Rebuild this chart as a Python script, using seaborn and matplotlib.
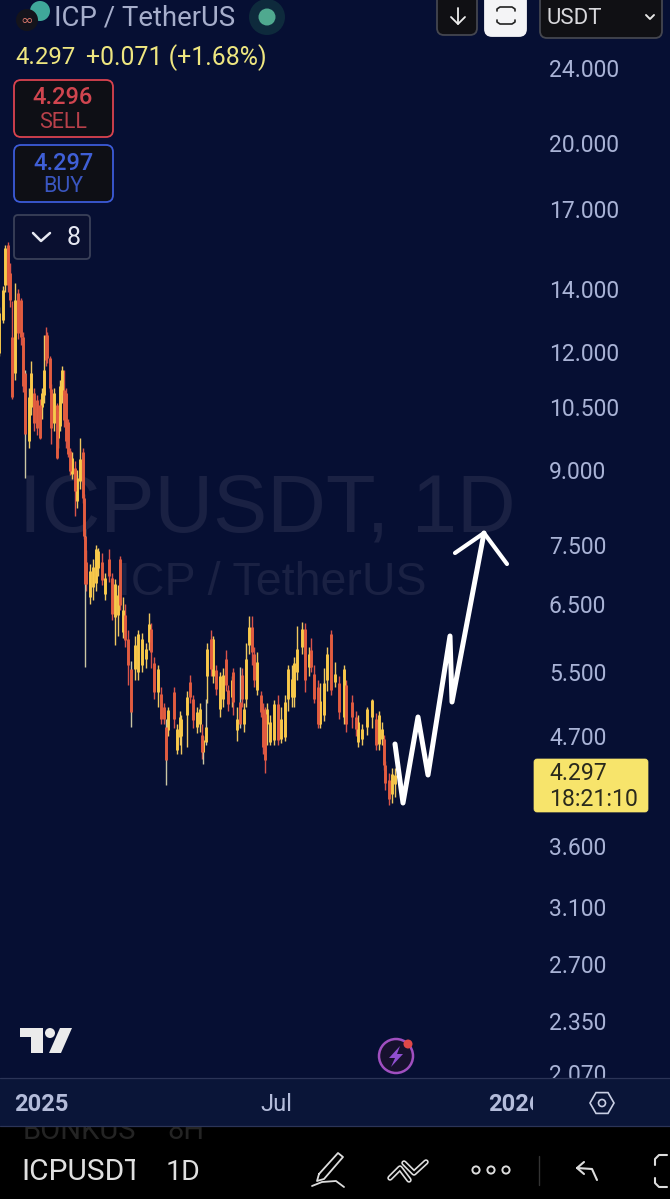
import matplotlib
matplotlib.use("Agg")
import matplotlib.pyplot as plt
from matplotlib.patches import Circle, FancyBboxPatch, Polygon, Rectangle, RegularPolygon
from matplotlib.transforms import Bbox
import pandas as pd
import seaborn as sns

# days counted from 1 Jan 2025
days = [-32, -29, -28, -25, -24, -22, -20, -18, -15, -14,
        -12, -9, -8, -5, -3, -1, 1, 2, 4, 5,
        7, 8, 10, 12, 13, 15, 16, 18, 19, 21,
        22, 24, 26, 28, 30, 32, 33, 34, 35, 38,
        40, 42, 44, 47, 49, 52, 55, 57, 59, 61,
        63, 65, 67, 69, 72, 75, 78, 81, 83, 85,
        87, 90, 92, 95, 96, 98, 102, 105, 107, 108,
        112, 115, 117, 120, 122, 124, 125, 127, 128, 131,
        132, 135, 138, 140, 142, 144, 147, 148, 151, 153,
        155, 156, 158, 160, 162, 164, 166, 169, 171, 172,
        174, 176, 179, 182, 185, 188, 190, 193, 195, 197,
        201, 203, 206, 208, 210, 213, 215, 218, 220, 223,
        226, 229, 233, 235, 239, 242, 244, 247, 251, 255,
        258, 260, 262, 264, 265, 268, 270, 272]
opens = [11.97, 12.98, 14.13, 15.59, 14.55, 12.45, 11.40, 13.86, 13.63, 12.45,
         11.40, 9.67, 10.49, 10.85, 10.67, 10.54, 10.49, 10.80, 12.50, 12.50,
         11.83, 10.98, 10.09, 10.54, 9.74, 10.03, 10.80, 10.93, 10.85, 10.11,
         9.44, 8.91, 9.05, 8.35, 8.77, 9.40, 8.41, 7.66, 7.20, 6.61,
         6.77, 6.83, 7.08, 7.20, 6.66, 7.24, 6.91, 6.29, 6.32, 7.24,
         6.07, 6.32, 5.96, 5.54, 5.54, 5.50, 5.60, 5.68, 5.92, 6.11,
         5.62, 5.24, 5.21, 5.05, 4.81, 4.77, 5.24, 4.55, 4.69, 4.70,
         4.95, 5.37, 5.15, 4.81, 4.85, 4.72, 4.52, 4.64, 5.44, 5.96,
         5.44, 5.53, 5.02, 5.15, 5.68, 5.26, 5.17, 5.50, 4.77, 5.11,
         5.46, 4.84, 5.15, 5.88, 6.14, 5.75, 5.26, 5.20, 5.02, 4.96,
         4.84, 4.64, 4.66, 5.09, 4.67, 4.69, 5.15, 5.17, 5.17, 5.50,
         5.85, 6.11, 5.57, 5.81, 5.47, 5.30, 4.85, 4.95, 5.39, 6.04,
         5.37, 5.35, 4.93, 5.33, 5.11, 4.93, 4.64, 4.67, 4.81, 4.93,
         4.90, 4.61, 4.67, 4.67, 4.38, 4.23, 4.08, 4.19]
closes = [13.20, 13.96, 15.48, 14.13, 13.63, 10.75, 13.63, 12.57, 12.45, 11.06,
          9.84, 10.75, 11.40, 10.09, 9.98, 9.74, 10.85, 11.48, 11.77, 11.83,
          11.00, 9.98, 10.85, 9.28, 10.28, 11.06, 11.48, 10.16, 9.67, 9.37,
          8.98, 9.28, 8.55, 8.83, 9.25, 8.41, 7.66, 6.81, 6.81, 7.03,
          7.11, 7.43, 7.38, 6.89, 6.91, 6.95, 6.34, 6.81, 6.64, 6.48,
          6.40, 5.95, 5.60, 4.99, 5.88, 6.04, 5.96, 5.82, 6.19, 5.78,
          5.24, 5.54, 4.90, 4.90, 4.44, 5.01, 4.90, 4.79, 4.93, 4.90,
          5.17, 5.17, 4.89, 4.99, 5.02, 4.52, 4.66, 4.81, 5.82, 5.54,
          5.96, 5.28, 5.44, 5.46, 5.33, 5.09, 5.39, 5.11, 4.90, 4.84,
          5.15, 5.02, 5.68, 6.14, 5.78, 5.39, 5.64, 4.99, 4.58, 4.44,
          5.02, 4.87, 5.09, 4.66, 4.90, 5.11, 5.54, 5.41, 5.62, 5.82,
          6.11, 5.39, 5.75, 5.57, 5.15, 4.85, 5.13, 5.35, 5.74, 5.26,
          5.47, 4.99, 5.54, 4.84, 4.93, 4.79, 4.87, 4.79, 5.02, 5.14,
          4.60, 4.95, 4.79, 4.38, 4.20, 4.03, 4.29, 4.28]
highs = [13.40, 14.10, 15.60, 15.70, 14.90, 13.60, 14.20, 14.00, 13.70, 12.60,
         11.50, 11.00, 11.75, 11.00, 10.80, 10.70, 11.00, 12.50, 12.75, 12.60,
         11.90, 11.10, 11.00, 10.60, 10.40, 11.20, 11.60, 11.50, 11.00, 10.20,
         9.50, 9.40, 9.20, 9.00, 9.73, 9.50, 8.50, 7.80, 7.40, 7.15,
         7.25, 7.50, 7.45, 7.35, 7.00, 7.42, 7.00, 6.90, 6.80, 7.30,
         6.60, 6.50, 6.10, 5.65, 6.00, 6.10, 6.05, 5.90, 6.35, 6.20,
         5.70, 5.60, 5.30, 5.10, 4.90, 5.05, 5.30, 4.85, 5.00, 4.95,
         5.25, 5.46, 5.20, 5.05, 5.10, 4.85, 4.70, 5.15, 5.90, 6.10,
         6.00, 5.60, 5.50, 5.55, 5.80, 5.33, 5.45, 5.55, 5.05, 5.57,
         5.55, 5.10, 5.90, 6.30, 6.30, 5.85, 5.78, 5.25, 5.10, 5.05,
         5.10, 4.95, 5.14, 5.20, 5.05, 5.20, 5.60, 5.60, 5.70, 6.15,
         6.22, 6.20, 5.85, 5.97, 5.60, 5.40, 5.35, 5.55, 5.85, 6.10,
         5.64, 5.45, 5.60, 5.40, 5.20, 5.00, 4.95, 4.85, 5.05, 5.15,
         4.98, 5.00, 4.87, 4.72, 4.43, 4.30, 4.35, 4.35]
lows = [11.90, 12.90, 13.90, 13.90, 13.40, 10.70, 11.20, 12.40, 12.20, 10.90,
        8.83, 9.50, 10.30, 9.90, 9.80, 9.70, 10.20, 10.60, 11.60, 11.70,
        10.90, 9.60, 9.90, 9.25, 9.50, 9.90, 10.60, 10.00, 9.50, 9.30,
        8.90, 8.80, 8.05, 8.20, 8.60, 8.30, 7.60, 5.57, 6.70, 6.50,
        6.55, 6.70, 6.95, 6.80, 6.55, 6.85, 6.25, 5.88, 6.00, 6.40,
        5.98, 5.85, 5.33, 4.81, 5.40, 5.40, 5.50, 5.55, 5.80, 5.55,
        5.15, 5.05, 4.85, 4.85, 4.17, 4.70, 4.80, 4.50, 4.60, 4.50,
        4.58, 5.10, 4.80, 4.74, 4.75, 4.45, 4.39, 4.60, 5.10, 5.45,
        5.35, 5.20, 4.93, 5.05, 5.25, 5.00, 5.05, 4.95, 4.65, 4.80,
        5.05, 4.75, 5.05, 5.75, 5.60, 5.30, 5.20, 4.93, 4.50, 4.30,
        4.60, 4.60, 4.60, 4.60, 4.63, 4.65, 5.00, 5.05, 5.05, 5.40,
        5.75, 5.24, 5.45, 5.50, 5.10, 4.80, 4.80, 4.88, 5.25, 5.20,
        5.30, 4.90, 4.85, 4.75, 4.80, 4.70, 4.58, 4.60, 4.72, 4.80,
        4.55, 4.55, 4.60, 4.33, 4.12, 3.98, 4.00, 4.05]
pale_wick_days = [-12, 34, 69, 96, 125, 127, 153]

price_ticks = [24, 20, 17, 14, 12, 10.5, 9, 7.5, 6.5, 5.5, 4.7, 3.6, 3.1, 2.7, 2.35, 2.07]
price_labels = ["24.000", "20.000", "17.000", "14.000", "12.000", "10.500", "9.000", "7.500",
                "6.500", "5.500", "4.700", "3.600", "3.100", "2.700", "2.350", "2.070"]
time_ticks = ["2025-01-01", "2025-07-01", "2026-01-01"]
time_labels = ["2025", "Jul", "2026"]

NAVY = "#060f33"
STRIP = "#0a1538"
LINE = "#2b3457"
AXIS_TXT = "#a9b3d6"

sns.set_theme(style="dark")
plt.rcParams["font.family"] = ["Roboto", "DejaVu Sans"]

start = pd.Timestamp("2025-01-01")
dates = [start + pd.Timedelta(days=d) for d in days]

wick_rows = []
body_rows = []
for i in range(len(days)):
    side = "up" if closes[i] >= opens[i] else "down"
    wick = "pale" if days[i] in pale_wick_days else side
    wick_rows.append({"date": dates[i], "price": highs[i], "candle": i, "side": wick})
    wick_rows.append({"date": dates[i], "price": lows[i], "candle": i, "side": wick})
    body_rows.append({"date": dates[i], "price": opens[i], "candle": i, "side": side})
    body_rows.append({"date": dates[i], "price": closes[i], "candle": i, "side": side})
wicks = pd.DataFrame(wick_rows)
bodies = pd.DataFrame(body_rows)

fig = plt.figure(figsize=(6.7, 11.99), dpi=100, facecolor=NAVY)
W, H = 670, 1199

# layers: watermark, chart, time strip, app interface
ax_bg = fig.add_axes([0, 0, 1, 1], zorder=0)
ax_bg.set_xlim(0, W)
ax_bg.set_ylim(H, 0)
ax_bg.axis("off")
ax = fig.add_axes([0, 1 - 1078 / H, 533 / W, 1078 / H], zorder=1)
ax_time = fig.add_axes([0, 1 - 1126 / H, 533 / W, 48 / H], zorder=2)
ui = fig.add_axes([0, 0, 1, 1], zorder=3)
ui.set_xlim(0, W)
ui.set_ylim(H, 0)
ui.axis("off")

ax_bg.add_patch(Rectangle((0, 0), W, H, color=NAVY))
ax_bg.text(267, 510, "ICPUSDT, 1D", color="#1a2143", fontsize=58.5, ha="center", va="center",
           family="Liberation Sans")
ax_bg.text(272, 583, "ICP / TetherUS", color="#1a2143", fontsize=33.5, ha="center", va="center",
           family="Liberation Sans")

# candles
sns.lineplot(data=wicks, x="date", y="price", units="candle", estimator=None, hue="side",
             palette={"up": "#f0c860", "down": "#d9534a", "pale": "#c9c6a4"},
             lw=1.0, solid_capstyle="butt", legend=False, ax=ax)
sns.lineplot(data=bodies, x="date", y="price", units="candle", estimator=None, hue="side",
             palette={"up": "#f9c94a", "down": "#e25c40"},
             lw=2.1, solid_capstyle="butt", legend=False, ax=ax)

ax.patch.set_visible(False)
ax.set_yscale("log")
ax.set_ylim(2.043, 28.33)
ax.set_xlim(start - pd.Timedelta(days=31.5), start + pd.Timedelta(days=378.5))
ax.set_xlabel("")
ax.set_ylabel("")
ax.set_xticks([])
ax.yaxis.tick_right()
ax.set_yticks(price_ticks)
ax.set_yticklabels(price_labels)
ax.minorticks_off()
ax.tick_params(axis="y", length=0, pad=11.5, labelsize=16.5, labelcolor=AXIS_TXT)
ax.grid(False)
for s in ax.spines.values():
    s.set_visible(False)

# time strip
ax_time.set_facecolor(STRIP)
ax_time.set_xlim(ax.get_xlim())
ax_time.set_yticks([])
ax_time.grid(False)
ax_time.set_xticks([pd.Timestamp(t) for t in time_ticks])
ax_time.set_xticklabels(time_labels)
ax_time.tick_params(axis="x", length=0, pad=-15.5, labelsize=17, labelcolor="#b4bcda")
for lab in ax_time.get_xticklabels():
    lab.set_va("center")
    lab.set_clip_on(True)
    lab.set_clip_box(ax_time.bbox)
    if lab.get_text() != "Jul":
        lab.set_fontweight("bold")
for s in ax_time.spines.values():
    s.set_visible(False)


def box(x0, y0, x1, y1, edge, face, r=7, lw=1.3):
    ui.add_patch(FancyBboxPatch((x0 + r, y0 + r), x1 - x0 - 2 * r, y1 - y0 - 2 * r,
                                boxstyle=f"round,pad={r}", ec=edge, fc=face, lw=lw))


def line(pts, color="#e6e6e6", lw=1.5):
    ui.plot([p[0] for p in pts], [p[1] for p in pts], color=color, lw=lw,
            solid_capstyle="round", solid_joinstyle="round")


def clipped_text(x, y, s, x0, x1, color, size):
    # clip box in display pixels, only the black bar below the strip
    t = ui.text(x, y, s, color=color, fontsize=size, va="center", clip_on=True)
    t.set_clip_box(Bbox([[x0, 0], [x1, H - 1127]]))


# strip right part, black bar and separators
ui.add_patch(Rectangle((533, 1078), 137, 48, color=STRIP, lw=0))
ui.add_patch(Rectangle((0, 1126), W, 73, color="#000000", lw=0))
line([(0, 1078), (W, 1078)], LINE, 0.9)
line([(0, 1126), (W, 1126)], LINE, 0.9)

# header
ui.add_patch(Circle((40, 11), 10, color="#3fa79a", lw=0))
ui.add_patch(Circle((27, 20), 11, color="#14141c", lw=0))
ui.text(27, 20, "∞", color="#d6756a", fontsize=11, ha="center", va="center", family="DejaVu Sans")
ui.text(54, 18, "ICP / TetherUS", color="#a6aecb", fontsize=19.8, va="center")
ui.add_patch(Circle((267, 17), 18, color="#0e2a3c", lw=0))
ui.add_patch(Circle((267, 17), 8.5, color="#4fa98f", lw=0))
ui.text(15, 58, "4.297", color="#eee680", fontsize=17.3, va="center")
ui.text(86, 58, "+0.071 (+1.68%)", color="#eee680", fontsize=17.9, va="center")

box(14, 80, 113, 137, "#d9434f", "#0e0f15")
ui.text(63, 98, "4.296", color="#d0454f", fontsize=17, fontweight="medium", ha="center", va="center")
ui.text(63, 122, "SELL", color="#b8404a", fontsize=15.5, ha="center", va="center")
box(14, 145, 113, 202, "#3c5bd8", "#0e0f15")
ui.text(63, 163, "4.297", color="#3f5fd6", fontsize=17, fontweight="medium", ha="center", va="center")
ui.text(63, 187, "BUY", color="#3a56c0", fontsize=15.5, ha="center", va="center")
box(14, 215, 90, 259, "#3a4058", "#0a1030", r=4)
line([(33, 233), (41, 241), (50, 233)], "#e6e8f2", 1.8)
ui.text(74, 238, "8", color="#e6e8f2", fontsize=18, ha="center", va="center")

# top right buttons
box(437, -8, 477, 35, "#44464f", "#101014")
line([(458, 8), (458, 24)], "#eeeeee", 1.3)
line([(451, 17), (458, 24), (465, 17)], "#eeeeee", 1.3)
box(485, -8, 526, 36, "#f4f4f6", "#f4f4f6")
line([(497, 11), (497, 9), (500, 7), (512, 7), (515, 9), (515, 11)], "#222222", 1.2)
line([(497, 20), (497, 22), (500, 24), (512, 24), (515, 22), (515, 20)], "#222222", 1.2)
box(540, -8, 662, 38, "#44464f", "#101014")
ui.text(547, 18, "USDT", color="#d8d8dc", fontsize=16, va="center")
line([(646, 15), (650, 19), (654, 15)], "#e6e6e6", 1.4)

# last price label
box(534, 759, 648, 812, "#f7e46b", "#f7e46b", r=3, lw=0.5)
ui.text(549, 774, "4.297", color="#2a2a1c", fontsize=16.6, va="center")
ui.text(549, 799, "18:21:10", color="#2a2a1c", fontsize=16.6, va="center")

# hand drawn arrow
line([(395, 744), (403, 803), (418, 717), (428, 775), (450, 636), (452, 702), (484, 533)],
     "#ffffff", 3.6)
line([(455, 553), (484, 533), (507, 564)], "#ffffff", 3.0)

# tradingview mark
ui.add_patch(Polygon([(20, 1028), (43, 1028), (43, 1053), (31, 1053), (31, 1037), (20, 1037)],
                     color="#ebebeb", lw=0))
ui.add_patch(Circle((50, 1033), 5, color="#ebebeb", lw=0))
ui.add_patch(Polygon([(60, 1028), (72, 1028), (61, 1053), (49, 1053)], color="#ebebeb", lw=0))

# bolt badge
ui.add_patch(Circle((396, 1056), 17, fc="#17112e", ec="#a04fc0", lw=1.8))
ui.add_patch(Polygon([(400, 1046), (389, 1058), (395, 1058), (391, 1067), (403, 1054), (397, 1054)],
                     color="#8f4fd0", lw=0))
ui.add_patch(Circle((408, 1044), 4.5, color="#e04848", lw=0))

# settings icon
ui.add_patch(RegularPolygon((602, 1103), 6, radius=12, orientation=0.5236, fc="none",
                            ec="#c9cfe4", lw=1.2))
ui.add_patch(Circle((602, 1103), 3.5, fc="none", ec="#c9cfe4", lw=1.2))

# bottom toolbar
clipped_text(23, 1131, "BONKUS", 0, 135, "#242424", 21)
clipped_text(167, 1131, "8H", 163, 260, "#242424", 21)
clipped_text(21, 1172, "ICPUSDT", 0, 135, "#e0e0e0", 21.5)
ui.text(166, 1172, "1D", color="#e0e0e0", fontsize=20.5, va="center")
line([(319, 1174), (338, 1153), (343, 1157), (324, 1179), (317, 1181), (319, 1174)], "#dddddd", 1.3)
line([(312, 1186), (322, 1182), (336, 1181), (344, 1187)], "#dddddd", 1.3)
line([(390, 1178), (400, 1168), (409, 1180)], "#dddddd", 4.0)
line([(404, 1163), (414, 1173), (426, 1162)], "#dddddd", 4.0)
line([(390, 1178), (400, 1168), (409, 1180)], "#000000", 1.6)
line([(404, 1163), (414, 1173), (426, 1162)], "#000000", 1.6)
for cx in (476, 491, 506):
    ui.add_patch(Circle((cx, 1170), 3.6, fc="none", ec="#dddddd", lw=1.4))
line([(539, 1156), (539, 1185)], "#333333", 1.0)
line([(577, 1168), (584, 1162)], "#dddddd", 1.5)
line([(577, 1168), (584, 1174)], "#dddddd", 1.5)
line([(577, 1168), (592, 1169), (597, 1180)], "#dddddd", 1.5)
line([(667, 1155), (659, 1155), (655, 1159), (655, 1165)], "#dddddd", 1.5)
line([(655, 1178), (655, 1183), (659, 1187), (667, 1187)], "#dddddd", 1.5)

fig.savefig("out.png", dpi=100, facecolor=NAVY)
